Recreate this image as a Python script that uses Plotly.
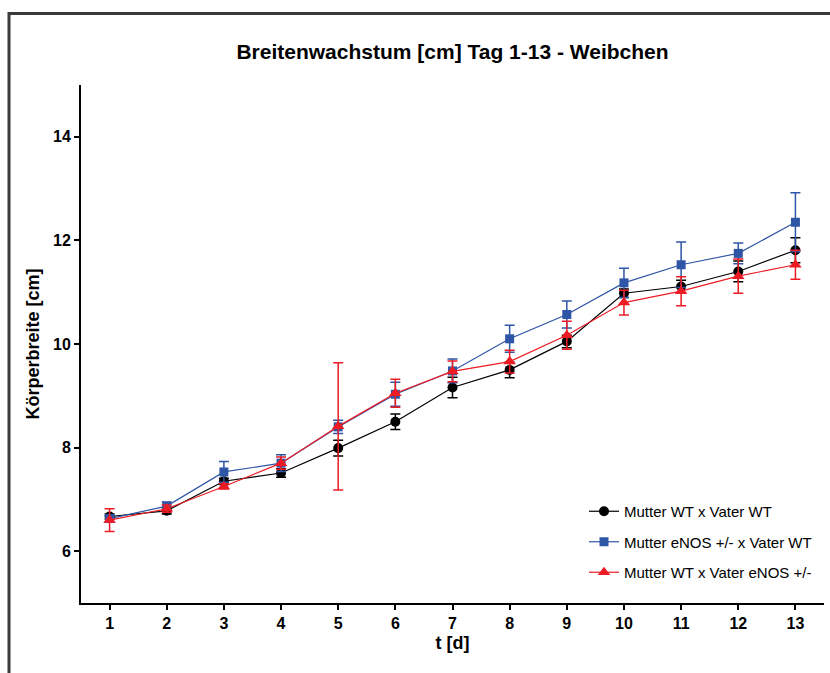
import plotly.graph_objects as go

days = list(range(1, 14))

wt_wt = [6.67, 6.78, 7.35, 7.51, 7.99, 8.50, 9.16, 9.50, 10.05, 10.98, 11.11, 11.40, 11.81]
wt_wt_err = [0.05, 0.06, 0.06, 0.08, 0.15, 0.15, 0.20, 0.15, 0.12, 0.08, 0.12, 0.20, 0.24]

enos_wt = [6.63, 6.87, 7.53, 7.70, 8.40, 9.03, 9.48, 10.10, 10.57, 11.18, 11.53, 11.75, 12.35]
enos_wt_err = [0.06, 0.08, 0.20, 0.16, 0.13, 0.23, 0.23, 0.26, 0.26, 0.28, 0.44, 0.20, 0.57]

wt_enos = [6.60, 6.82, 7.25, 7.70, 8.41, 9.05, 9.47, 9.66, 10.17, 10.80, 11.02, 11.31, 11.53]
wt_enos_err = [0.22, 0.07, 0.05, 0.12, 1.23, 0.27, 0.20, 0.22, 0.27, 0.24, 0.28, 0.33, 0.28]

names = ["Mutter WT x Vater WT", "Mutter eNOS +/- x Vater WT", "Mutter WT x Vater eNOS +/-"]
ytick_vals = [6, 8, 10, 12, 14]

FONT = "Arial, Liberation Sans, sans-serif"

series = [
    (names[0], wt_wt, wt_wt_err, "#000000", "circle", 10),
    (names[1], enos_wt, enos_wt_err, "#2F55A6", "square", 9),
    (names[2], wt_enos, wt_enos_err, "#ED1C24", "triangle-up", 11),
]

fig = go.Figure()
for i, (nm, ys, es, col, sym, sz) in enumerate(series):
    fig.add_trace(go.Scatter(
        x=days, y=ys, name=nm, mode="lines+markers",
        legendgroup=f"g{i}",
        line=dict(color=col, width=1.2),
        marker=dict(color=col, symbol=sym, size=sz),
        error_y=dict(type="data", array=es, visible=True, color=col, thickness=1.5, width=5),
    ))

W, H = 830, 673
L, R, T, B = 81, 6, 85, 70
pw, ph = W - L - R, H - T - B

def px(x):
    return (x - L) / pw

def py(y):
    return (H - B - y) / ph

fig.update_layout(
    width=W, height=H,
    margin=dict(l=L, r=R, t=T, b=B),
    paper_bgcolor="white", plot_bgcolor="white",
    font=dict(family=FONT, color="black"),
    title=dict(text="<b>Breitenwachstum [cm] Tag 1-13 - Weibchen</b>",
               x=(L + pw / 2) / W, xanchor="center", y=1 - 52 / H, yanchor="middle",
               yref="container", font=dict(size=21, family=FONT, color="black")),
    xaxis=dict(range=[0.5, 13.5], tickvals=days, ticktext=[f"<b>{d}</b>" for d in days],
               showline=True, linecolor="black", linewidth=2, ticks="outside", ticklen=5,
               tickwidth=2, tickcolor="black", showgrid=False, zeroline=False,
               tickfont=dict(size=16, family=FONT),
               title=dict(text="<b>t [d]</b>", font=dict(size=18, family=FONT), standoff=5)),
    yaxis=dict(range=[5, 15], tickvals=ytick_vals, ticktext=[f"<b>{v}</b>" for v in ytick_vals],
               showline=True, linecolor="black", linewidth=2, ticks="outside", ticklen=5,
               tickwidth=2, tickcolor="black", showgrid=False, zeroline=False,
               tickfont=dict(size=16, family=FONT),
               title=dict(text="<b>Körperbreite [cm]</b>", font=dict(size=18, family=FONT), standoff=9)),
    legend=dict(x=px(584), xanchor="left", y=py(495), yanchor="top",
                font=dict(size=15, family=FONT), bgcolor="rgba(0,0,0,0)",
                traceorder="grouped", tracegroupgap=8),
    shapes=[
        dict(type="line", xref="paper", yref="paper", x0=px(9), x1=px(W + 5), y0=py(13.5), y1=py(13.5),
             line=dict(color="#3a3a3a", width=3)),
        dict(type="line", xref="paper", yref="paper", x0=px(9), x1=px(9), y0=py(12), y1=py(H + 5),
             line=dict(color="#3a3a3a", width=3)),
    ],
)

fig.write_html("out.html")
